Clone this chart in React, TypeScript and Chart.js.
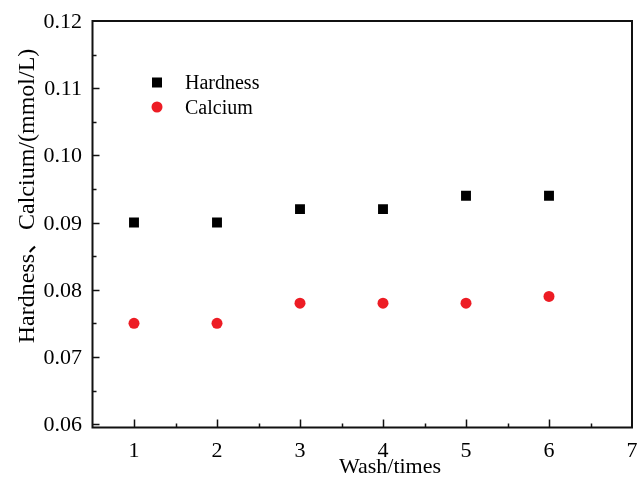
import React, { useEffect, useRef } from "react";
import { Chart, registerables } from "chart.js";

Chart.register(...registerables);

const washes = [1, 2, 3, 4, 5, 6];
const hardness = [0.09, 0.09, 0.092, 0.092, 0.094, 0.094];
const calcium = [0.075, 0.075, 0.078, 0.078, 0.078, 0.079];
const xTicks = [1, 2, 3, 4, 5, 6, 7];
const yTicks = [0.06, 0.07, 0.08, 0.09, 0.1, 0.11, 0.12];
const xMinor = [1.5, 2.5, 3.5, 4.5, 5.5, 6.5];
const yMinor = [0.065, 0.075, 0.085, 0.095, 0.105, 0.115];
const seriesNames = ["Hardness", "Calcium"];
const xTitle = "Wash/times";
const yTitle = "Hardness、Calcium/(mmol/L)";

const FONT = '"Liberation Serif", "Times New Roman", "Noto Sans CJK SC", serif';
const RED = "#ED1C24";

const framePlugin = {
  id: "frame",
  afterDraw(chart: any) {
    const { ctx, chartArea } = chart;
    const { left, right, top, bottom } = chartArea;
    const xs = chart.scales.x;
    const ys = chart.scales.y;
    ctx.save();
    ctx.strokeStyle = "#111";
    ctx.lineWidth = 2;
    ctx.beginPath();
    ctx.rect(left, top, right - left, bottom - top);
    ctx.stroke();
    ctx.lineWidth = 1.5;
    ctx.beginPath();
    xTicks.forEach((v) => {
      const px = Math.round(xs.getPixelForValue(v)) + 0.5;
      if (px < right - 2) {
        ctx.moveTo(px, bottom);
        ctx.lineTo(px, bottom - 8);
      }
    });
    xMinor.forEach((v) => {
      const px = Math.round(xs.getPixelForValue(v)) + 0.5;
      ctx.moveTo(px, bottom);
      ctx.lineTo(px, bottom - 4);
    });
    yTicks.forEach((v) => {
      const py = Math.round(ys.getPixelForValue(v)) + 0.5;
      if (py > top + 2) {
        ctx.moveTo(left, py);
        ctx.lineTo(left + 7, py);
      }
    });
    yMinor.forEach((v) => {
      const py = Math.round(ys.getPixelForValue(v)) + 0.5;
      ctx.moveTo(left, py);
      ctx.lineTo(left + 4, py);
    });
    ctx.stroke();

    // tick labels
    ctx.fillStyle = "#000";
    ctx.font = `22px ${FONT}`;
    ctx.textBaseline = "alphabetic";
    ctx.textAlign = "center";
    xTicks.forEach((v) => {
      ctx.fillText(String(v), xs.getPixelForValue(v), 456.5);
    });
    ctx.textAlign = "right";
    yTicks.forEach((v) => {
      ctx.fillText(v.toFixed(2), 82, ys.getPixelForValue(v) + 7);
    });

    // legend
    ctx.fillStyle = "#000";
    ctx.fillRect(152, 77.5, 10, 10);
    ctx.fillStyle = RED;
    ctx.beginPath();
    ctx.arc(157, 107, 5.5, 0, Math.PI * 2);
    ctx.fill();
    ctx.fillStyle = "#000";
    ctx.font = `20px ${FONT}`;
    ctx.textAlign = "left";
    ctx.fillText(seriesNames[0], 185, 89);
    ctx.fillText(seriesNames[1], 185, 114);

    // axis titles
    ctx.font = `22px ${FONT}`;
    ctx.textAlign = "center";
    ctx.fillText(xTitle, 390, 473);
    ctx.save();
    ctx.translate(33.5, 196);
    ctx.rotate(-Math.PI / 2);
    ctx.font = `24px ${FONT}`;
    ctx.fillText(yTitle, 0, 0);
    ctx.restore();
    ctx.restore();
  },
};

export default function App() {
  const ref = useRef<HTMLCanvasElement>(null);
  useEffect(() => {
    const chart = new Chart(ref.current!, {
      type: "scatter",
      data: {
        datasets: [
          {
            label: seriesNames[0],
            data: washes.map((x, i) => ({ x, y: hardness[i] })),
            pointStyle: "rect",
            pointRadius: 7,
            pointBackgroundColor: "#000",
            pointBorderWidth: 0,
            borderColor: "#000",
            backgroundColor: "#000",
          },
          {
            label: seriesNames[1],
            data: washes.map((x, i) => ({ x, y: calcium[i] })),
            pointStyle: "circle",
            pointRadius: 5.5,
            pointBackgroundColor: RED,
            pointBorderWidth: 0,
            borderColor: RED,
            backgroundColor: RED,
          },
        ],
      },
      options: {
        animation: false,
        responsive: false,
        events: [],
        layout: { padding: { top: 21, right: 5.5, left: 0, bottom: 0 } },
        plugins: { legend: { display: false }, tooltip: { enabled: false } },
        scales: {
          x: {
            type: "linear",
            min: 0.5,
            max: 7,
            grid: { display: false, drawTicks: false },
            border: { display: false },
            afterBuildTicks: (s: any) => {
              s.ticks = xTicks.map((v) => ({ value: v }));
            },
            afterFit: (s: any) => {
              s.height = 49.5;
              s.paddingLeft = 0;
              s.paddingRight = 0;
            },
            ticks: { display: false },
          },
          y: {
            type: "linear",
            min: 0.0595,
            max: 0.12,
            grid: { display: false, drawTicks: false },
            border: { display: false },
            afterBuildTicks: (s: any) => {
              s.ticks = yTicks.map((v) => ({ value: v }));
            },
            afterFit: (s: any) => {
              s.width = 92.5;
              s.paddingTop = 0;
              s.paddingBottom = 0;
            },
            ticks: { display: false },
          },
        },
      },
      plugins: [framePlugin],
    });
    return () => chart.destroy();
  }, []);
  return (
    <div style={{ position: "absolute", left: 0, top: 0, width: 639, height: 477, background: "#fff" }}>
      <canvas ref={ref} width={639} height={477} />
    </div>
  );
}
